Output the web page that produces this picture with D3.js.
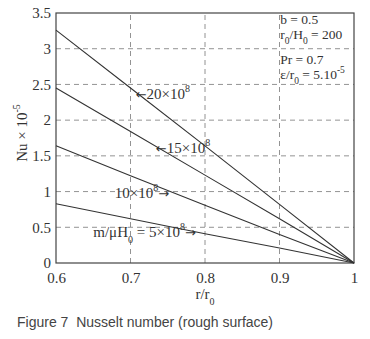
<!DOCTYPE html>
<html>
<head>
<meta charset="utf-8">
<script src="https://cdn.jsdelivr.net/npm/d3@7"></script>
<style>
  body { margin: 0; background: #fff; }
  svg { display: block; }
  .serif { font-family: 'Liberation Serif', 'DejaVu Serif', serif; fill: #333; }
</style>
</head>
<body>
<figure style="margin:0"></figure>
<script>
const rValues = [0.6, 0.7, 0.8, 0.9, 1.0]
const nu20 = [3.26, 2.45, 1.64, 0.82, 0]
const nu15 = [2.45, 1.84, 1.23, 0.62, 0]
const nu10 = [1.64, 1.22, 0.81, 0.40, 0]
const nu5 = [0.83, 0.62, 0.41, 0.21, 0]
const xTicks = [0.6, 0.7, 0.8, 0.9, 1]
const yTicks = [0, 0.5, 1, 1.5, 2, 2.5, 3, 3.5]

const width = 370
const height = 339
const margin = { top: 13, right: 16, bottom: 76, left: 56 }

const svg = d3.select('figure').append('svg')
  .attr('width', width)
  .attr('height', height)

const x = d3.scaleLinear().domain([0.6, 1]).range([margin.left, width - margin.right])
const y = d3.scaleLinear().domain([0, 3.5]).range([height - margin.bottom, margin.top])

// grid
svg.append('g')
  .attr('stroke', '#777')
  .attr('stroke-width', 0.8)
  .attr('stroke-dasharray', '5,4')
  .selectAll('line')
  .data(yTicks.slice(1, -1))
  .join('line')
  .attr('x1', x(0.6)).attr('x2', x(1))
  .attr('y1', d => y(d)).attr('y2', d => y(d))

svg.append('g')
  .attr('stroke', '#777')
  .attr('stroke-width', 0.8)
  .attr('stroke-dasharray', '5,4')
  .selectAll('line')
  .data(xTicks.slice(1, -1))
  .join('line')
  .attr('x1', d => x(d)).attr('x2', d => x(d))
  .attr('y1', y(0)).attr('y2', y(3.5))

// frame
svg.append('rect')
  .attr('x', x(0.6)).attr('y', y(3.5))
  .attr('width', x(1) - x(0.6)).attr('height', y(0) - y(3.5))
  .attr('fill', 'none')
  .attr('stroke', '#444')
  .attr('stroke-width', 1.2)

// axes
const xAxis = svg.append('g')
  .attr('transform', `translate(0,${y(0)})`)
  .call(d3.axisBottom(x).tickValues(xTicks).tickSize(0).tickPadding(9).tickFormat(d3.format('')))
const yAxis = svg.append('g')
  .attr('transform', `translate(${x(0.6)},0)`)
  .call(d3.axisLeft(y).tickValues(yTicks).tickSize(0).tickPadding(5).tickFormat(d3.format('')))
for (const ax of [xAxis, yAxis]) {
  ax.select('.domain').remove()
  ax.selectAll('text')
    .attr('class', 'serif')
    .attr('font-size', 15)
}

// series
const series = [nu20, nu15, nu10, nu5]
const line = d3.line()
  .x((d, i) => x(rValues[i]))
  .y(d => y(d))
svg.append('g')
  .attr('fill', 'none')
  .attr('stroke', '#333')
  .attr('stroke-width', 1.1)
  .selectAll('path')
  .data(series)
  .join('path')
  .attr('d', line)

// labels on curves
const lab = (px, py, parts, size = 15) => {
  const t = svg.append('text')
    .attr('class', 'serif')
    .attr('font-size', size)
    .attr('x', px).attr('y', py)
  parts.forEach(p => {
    const s = t.append('tspan').text(p.t)
    if (p.dy) s.attr('dy', p.dy)
    if (p.fs) s.attr('font-size', p.fs)
    if (p.arrow) s.attr('font-family', "'DejaVu Sans', sans-serif").attr('font-size', 13)
  })
  return t
}
lab(x(0.707), y(2.29), [{ t: '←', arrow: true }, { t: '20×10' }, { t: '8', dy: -7, fs: 10 }])
lab(x(0.734), y(1.54), [{ t: '←', arrow: true }, { t: '15×10' }, { t: '8', dy: -7, fs: 10 }])
lab(x(0.679), y(0.91), [{ t: '10×10' }, { t: '8', dy: -7, fs: 10 }, { t: '→', dy: 7, arrow: true }])
lab(x(0.650), y(0.36), [{ t: 'm/μH' }, { t: '0', dy: 6, fs: 10 }, { t: ' = 5×10', dy: -6 }, { t: '8', dy: -7, fs: 10 }, { t: '→', dy: 7, arrow: true }])

// parameter box
const boxLab = (py, parts) => lab(x(0.901), y(py), parts, 13.5)
boxLab(3.35, [{ t: 'b = 0.5' }])
boxLab(3.135, [{ t: 'r' }, { t: '0', dy: 5, fs: 9.5 }, { t: '/H', dy: -5 }, { t: '0', dy: 5, fs: 9.5 }, { t: ' = 200', dy: -5 }])
boxLab(2.78, [{ t: 'Pr = 0.7' }])
boxLab(2.57, [{ t: 'ε/r' }, { t: '0', dy: 5, fs: 9.5 }, { t: ' = 5.10', dy: -5 }, { t: '-5', dy: -6, fs: 9.5 }])

// axis titles
svg.append('text')
  .attr('class', 'serif')
  .attr('font-size', 15)
  .attr('text-anchor', 'middle')
  .attr('transform', `translate(27,133) rotate(-90)`)
  .call(t => {
    t.append('tspan').text('Nu × 10')
    t.append('tspan').text('-5').attr('dy', -7).attr('font-size', 10)
  })

svg.append('text')
  .attr('class', 'serif')
  .attr('font-size', 15)
  .attr('text-anchor', 'middle')
  .attr('x', x(0.8)).attr('y', 299)
  .call(t => {
    t.append('tspan').text('r/r')
    t.append('tspan').text('0').attr('dy', 6).attr('font-size', 10)
  })

svg.append('text')
  .attr('x', 17).attr('y', 327)
  .attr('font-family', "'Liberation Sans', Arial, sans-serif")
  .attr('font-size', 14)
  .attr('fill', '#444')
  .text('Figure 7\u00a0\u00a0Nusselt number (rough surface)')
</script>
</body>
</html>
